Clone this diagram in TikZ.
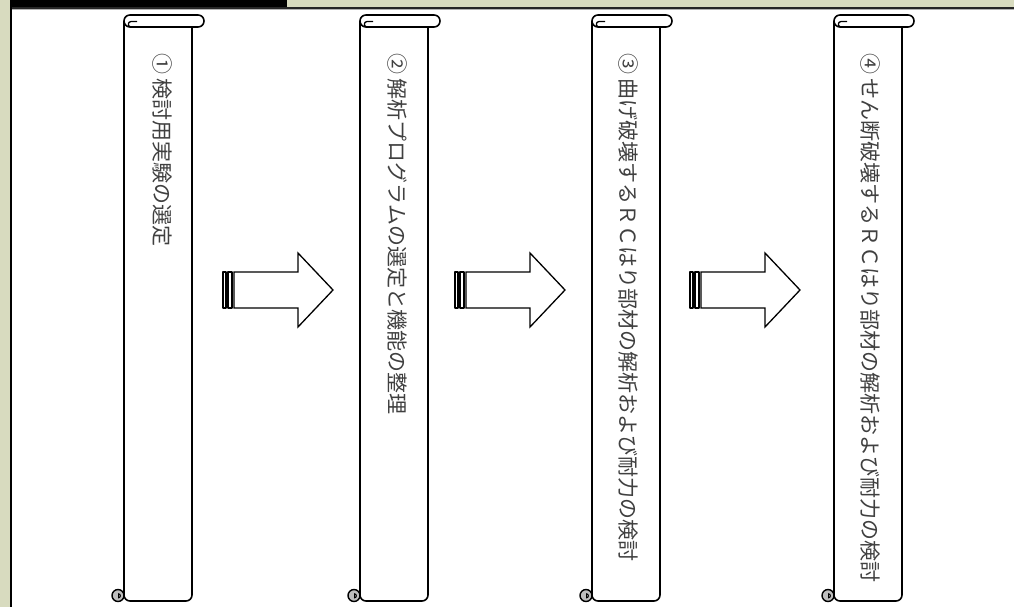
\documentclass[tikz,border=0pt]{standalone}
\usepackage{fontspec}
\newfontfamily\cjk{Noto Sans CJK JP}
\definecolor{frame}{HTML}{D8DBBF}
\definecolor{rollgray}{HTML}{BEBEBE}
\tikzset{
  outline/.style={draw=black, line width=1.6pt, line join=round},
  scrolltext/.style={rotate=-90, anchor=west, inner sep=0pt, text=black!75,
    font=\cjk\fontsize{21}{21}\selectfont},
  scroll/.pic={
    % body
    \draw[outline, fill=white, rounded corners=6pt] (0,6) -- (0,586) -- (68,586) -- (68,8);
    \draw[outline, fill=white, rounded corners=5.9pt] (0,0) rectangle (80,12);
    \draw[outline, line width=1.3pt] (13,6.5) -- (7,6.5) .. controls (3.5,6.5) and (3.5,12) .. (7,12);
    % bottom roll
    \draw[outline, line width=1.4pt, fill=rollgray] (-6,580.5) circle[radius=6pt];
    \draw[draw=black, line width=1pt, fill=white] (-5.5,578.8) .. controls (-3,578.8) and (-3,582.8) .. (-5.5,582.8) -- cycle;
  },
  stripearrow/.pic={
    \draw[outline, line width=1.3pt, fill=white] (0,-18) rectangle (3,18);
    \draw[outline, line width=1.3pt, fill=white] (5,-18) rectangle (9,18);
    \draw[outline, line width=1.3pt, fill=white, line join=miter] (11,-18) -- (75,-18) -- (75,-37) -- (110,0) -- (75,37) -- (75,18) -- (11,18) -- cycle;
  }
}
\begin{document}
\begin{tikzpicture}[x=1pt, y=-1pt]
\useasboundingbox (0,0) rectangle (1014,607);
% frame
\fill[frame] (0,0) rectangle (1014,607);
\fill[white] (12,9) rectangle (1014,607);
\fill[black] (10,0) rectangle (287,8);
\fill[black!85] (10,7.2) rectangle (1014,8.8);
\fill[black!30] (12,8.8) rectangle (1014,9.6);
\fill[black] (10,0) rectangle (12.3,607);
% scrolls
\coordinate (s1) at (124,15);
\coordinate (s2) at (360,15);
\coordinate (s3) at (592,15);
\coordinate (s4) at (834,15);
\pic (p1) at (s1) {scroll};
\pic (p2) at (s2) {scroll};
\pic (p3) at (s3) {scroll};
\pic (p4) at (s4) {scroll};
% texts
\node[scrolltext] (t1) at ([xshift=38pt, yshift=-38pt]s1) {① 検討用実験の選定};
\node[scrolltext] (t2) at ([xshift=37pt, yshift=-38pt]s2) {② 解析プログラムの選定と機能の整理};
\node[scrolltext] (t3) at ([xshift=36pt, yshift=-38pt]s3) {③ 曲げ破壊するＲＣはり部材の解析および耐力の検討};
\node[scrolltext] (t4) at ([xshift=36pt, yshift=-38pt]s4) {④ せん断破壊するＲＣはり部材の解析および耐力の検討};
% arrows
\coordinate (a1) at (223,290);
\coordinate (a2) at (455,290);
\coordinate (a3) at (690,290);
\pic at (a1) {stripearrow};
\pic at (a2) {stripearrow};
\pic at (a3) {stripearrow};
\end{tikzpicture}
\end{document}
